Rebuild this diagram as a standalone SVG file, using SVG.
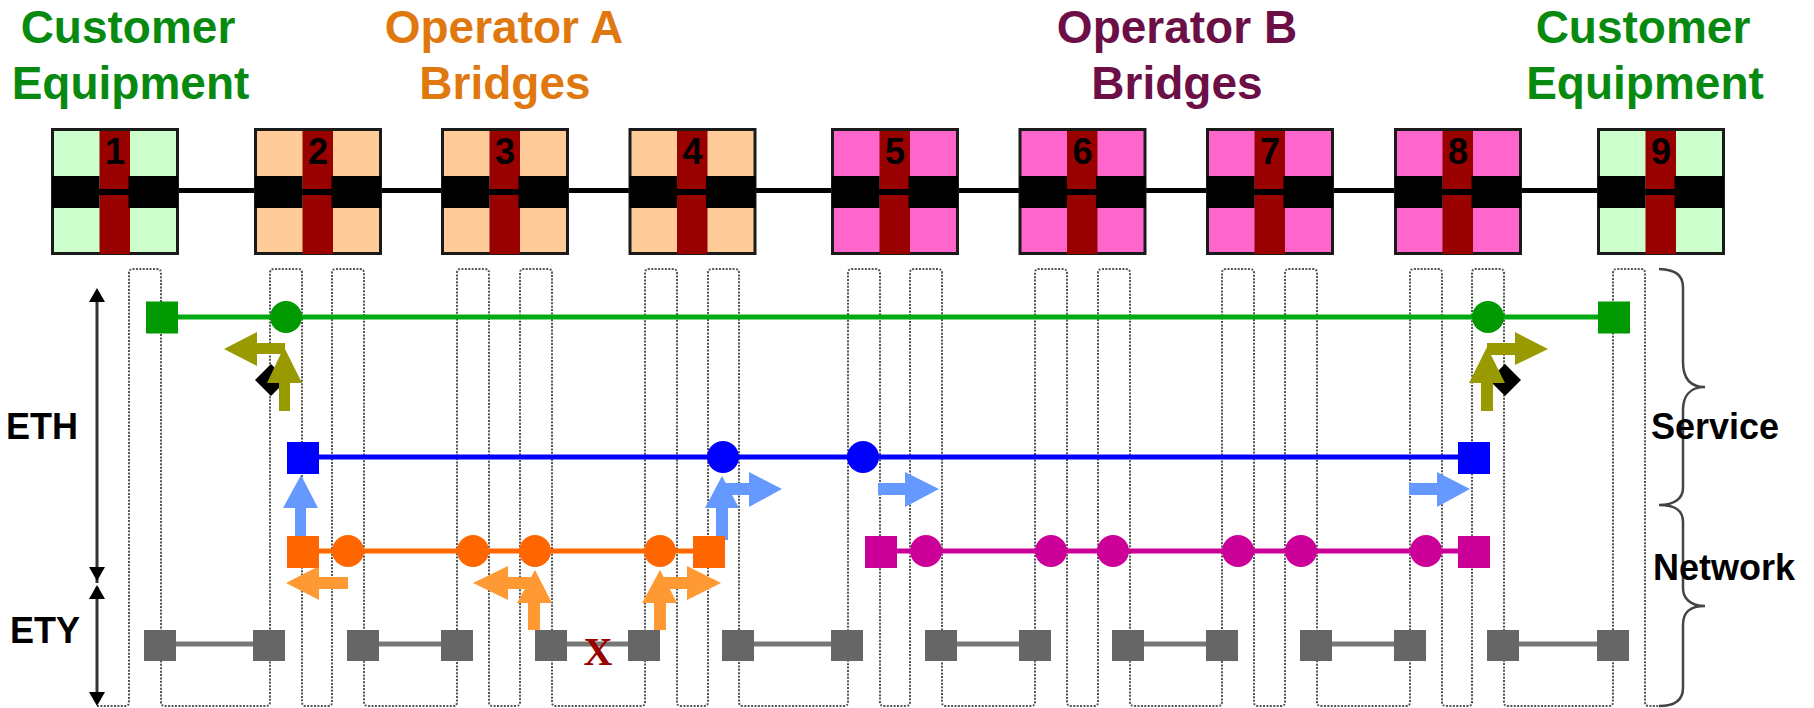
<svg xmlns="http://www.w3.org/2000/svg" width="1814" height="708" viewBox="0 0 1814 708">
<style>
.h{font:bold 46px "Liberation Sans",Arial,sans-serif;text-anchor:middle}
.l{font:bold 36px "Liberation Sans",Arial,sans-serif}
.n{font:bold 36px "Liberation Sans",Arial,sans-serif;text-anchor:middle;fill:#000}
.box{stroke:#1a1a1a;stroke-width:3}
.cu{fill:#ccffcc}.oa{fill:#ffcc99}.ob{fill:#ff66cc}
.red{fill:#990000}.blk{fill:#000}
.trail{stroke:#000;stroke-width:5;fill:none}
.dot{fill:none;stroke:#555;stroke-width:2;stroke-dasharray:2 1.4}
.brace{fill:none;stroke:#444;stroke-width:2.5}
.dim{stroke:#333;stroke-width:3;fill:none}
.g{fill:#009900}.gl{stroke:#00aa11;stroke-width:5}
.b{fill:#0000ff}.bl{stroke:#0000ff;stroke-width:5}
.o{fill:#ff6600}.ol{stroke:#ff6600;stroke-width:5}
.m{fill:#cc0099}.ml{stroke:#cc0099;stroke-width:5}
.y{fill:#666666}.yl{stroke:#777;stroke-width:5}
.olv{fill:#999900}.lb{fill:#6699ff}.lo{fill:#ff9933}
</style>
<defs>
<g id="cross">
<rect class="red" x="47.5" y="2" width="30.500" height="123"/>
<rect class="blk" x="0" y="47" width="47.5" height="32"/>
<rect class="blk" x="76.500" y="47" width="49.500" height="32"/>
<rect class="blk" x="47" y="60" width="30" height="6"/>
</g>
</defs>
<rect width="1814" height="708" fill="#fff"/>

<g id="headings">
<text class="h" x="128" y="43" fill="#088a10">Customer</text>
<text class="h" x="130.500" y="99" fill="#088a10">Equipment</text>
<text class="h" x="504" y="43" fill="#e07810">Operator A</text>
<text class="h" x="505" y="99" fill="#e07810">Bridges</text>
<text class="h" x="1177" y="43" fill="#6b0f46">Operator B</text>
<text class="h" x="1177" y="99" fill="#6b0f46">Bridges</text>
<text class="h" x="1643" y="43" fill="#088a10">Customer</text>
<text class="h" x="1645" y="99" fill="#088a10">Equipment</text>
</g>

<g id="connectors">
<path class="trail" d="M179 190.500H1597"/>
<path class="dot" d="M97 706H125q4 0 4-4V273q0-4 4-4H157q4 0 4 4V702q0 4 4 4H266q4 0 4-4V273q0-4 4-4H298q4 0 4 4V702q0 4 4 4H328q4 0 4-4V273q0-4 4-4H360q4 0 4 4V702q0 4 4 4H453q4 0 4-4V273q0-4 4-4H485q4 0 4 4V702q0 4 4 4H516q4 0 4-4V273q0-4 4-4H548q4 0 4 4V702q0 4 4 4H641q4 0 4-4V273q0-4 4-4H673q4 0 4 4V702q0 4 4 4H704q4 0 4-4V273q0-4 4-4H735q4 0 4 4V702q0 4 4 4H844q4 0 4-4V273q0-4 4-4H876q4 0 4 4V702q0 4 4 4H906q4 0 4-4V273q0-4 4-4H938q4 0 4 4V702q0 4 4 4H1031q4 0 4-4V273q0-4 4-4H1063q4 0 4 4V702q0 4 4 4H1094q4 0 4-4V273q0-4 4-4H1126q4 0 4 4V702q0 4 4 4H1218q4 0 4-4V273q0-4 4-4H1250q4 0 4 4V702q0 4 4 4H1281q4 0 4-4V273q0-4 4-4H1313q4 0 4 4V702q0 4 4 4H1406q4 0 4-4V273q0-4 4-4H1438q4 0 4 4V702q0 4 4 4H1468q4 0 4-4V273q0-4 4-4H1500q4 0 4 4V702q0 4 4 4H1609q4 0 4-4V273q0-4 4-4H1641q4 0 4 4V702q0 4 4 4H1662"/>
<path class="gl" d="M162 317H1614"/>
<path class="bl" d="M303 457H1473"/>
<path class="ol" d="M303 551H708"/>
<path class="ml" d="M881 551H1473"/>
<path class="yl" d="M160 644H269M363 644H457M551 644H644M738 644H847M941 644H1035M1128 644H1222M1316 644H1410M1503 644H1613"/>

<path class="dim" d="M97 300V583M97 587V694"/>
<polygon class="blk" points="97,288 105,302 89,302"/>
<polygon class="blk" points="97,581 105,567 89,567"/>
<polygon class="blk" points="97,585 105,599 89,599"/>
<polygon class="blk" points="97,706 105,692 89,692"/>

<path class="brace" d="M1659 269C1675 270 1683 274 1683 288V362C1683 378 1690 387 1705 387M1705 387C1690 387 1683 396 1683 410V488C1683 498 1675 505 1659 505C1675 505 1683 510 1683 522V588C1683 598 1690 606 1705 606C1690 606 1683 612 1683 625V688C1683 700 1675 706 1659 706"/>

<polygon class="blk" points="271,364 287,380 271,396 255,380"/>
<polygon class="blk" points="1505,364 1521,380 1505,396 1489,380"/>
<polygon class="olv" points="279,411 290,411 290,383 302,383 284,347 267,383 279,383"/>
<polygon class="olv" points="285,343 285,354 257,354 257,366 224,349 257,332 257,343"/>
<polygon class="olv" points="1481,411 1493,411 1493,383 1505,383 1487,347 1469,383 1481,383"/>
<polygon class="olv" points="1487,343 1487,355 1515,355 1515,365 1548,349 1515,332 1515,343"/>
<polygon class="lb" points="295,540 306,540 306,508 318,508 301,475 283,508 295,508"/>
<polygon class="lb" points="716,540 728,540 728,508 739,508 722,476 705,508 716,508"/>
<polygon class="lb" points="722,483 722,495 749,495 749,507 782,489 749,472 749,483"/>
<polygon class="lb" points="878,483 878,495 905,495 905,507 939,489 905,472 905,483"/>
<polygon class="lb" points="1409,483 1409,495 1437,495 1437,507 1470,489 1437,472 1437,483"/>
<polygon class="lo" points="348,577 348,589 319,589 319,600 286,583 319,566 319,577"/>
<polygon class="lo" points="535,577 535,589 508,589 508,600 473,583 508,566 508,577"/>
<polygon class="lo" points="528,630 540,630 540,603 552,603 535,570 517,603 528,603"/>
<polygon class="lo" points="654,630 666,630 666,603 677,603 660,570 642,603 654,603"/>
<polygon class="lo" points="660,577 660,589 687,589 687,600 721,583 687,566 687,577"/>
</g>

<g id="node-1" transform="translate(52 129)"><rect class="box cu" x="0.500" y="0.500" width="125" height="124"/><use href="#cross"/><text class="n" x="63" y="35">1</text></g>
<g id="node-2" transform="translate(255 129)"><rect class="box oa" x="0.500" y="0.500" width="125" height="124"/><use href="#cross"/><text class="n" x="63" y="35">2</text></g>
<g id="node-3" transform="translate(442 129)"><rect class="box oa" x="0.500" y="0.500" width="125" height="124"/><use href="#cross"/><text class="n" x="63" y="35">3</text></g>
<g id="node-4" transform="translate(629.500 129)"><rect class="box oa" x="0.500" y="0.500" width="125" height="124"/><use href="#cross"/><text class="n" x="63" y="35">4</text></g>
<g id="node-5" transform="translate(832 129)"><rect class="box ob" x="0.500" y="0.500" width="125" height="124"/><use href="#cross"/><text class="n" x="63" y="35">5</text></g>
<g id="node-6" transform="translate(1019.500 129)"><rect class="box ob" x="0.500" y="0.500" width="125" height="124"/><use href="#cross"/><text class="n" x="63" y="35">6</text></g>
<g id="node-7" transform="translate(1207 129)"><rect class="box ob" x="0.500" y="0.500" width="125" height="124"/><use href="#cross"/><text class="n" x="63" y="35">7</text></g>
<g id="node-8" transform="translate(1395 129)"><rect class="box ob" x="0.500" y="0.500" width="125" height="124"/><use href="#cross"/><text class="n" x="63" y="35">8</text></g>
<g id="node-9" transform="translate(1598 129)"><rect class="box cu" x="0.500" y="0.500" width="125" height="124"/><use href="#cross"/><text class="n" x="63" y="35">9</text></g>

<g id="service-points">
<rect class="g" x="146" y="301.500" width="32" height="32"/>
<circle class="g" cx="286" cy="317" r="16"/>
<circle class="g" cx="1488" cy="317" r="16"/>
<rect class="g" x="1598" y="301.500" width="32" height="32"/>
</g>
<g id="blue-points">
<rect class="b" x="287" y="442" width="32" height="32"/>
<circle class="b" cx="723" cy="457" r="16"/>
<circle class="b" cx="863" cy="457" r="16"/>
<rect class="b" x="1458" y="442" width="32" height="32"/>
</g>
<g id="operator-a-points">
<rect class="o" x="287" y="536" width="32" height="32"/>
<circle class="o" cx="348" cy="551" r="16"/>
<circle class="o" cx="473" cy="551" r="16"/>
<circle class="o" cx="535" cy="551" r="16"/>
<circle class="o" cx="660" cy="551" r="16"/>
<rect class="o" x="693" y="536" width="32" height="32"/>
</g>
<g id="operator-b-points">
<rect class="m" x="865" y="536" width="32" height="32"/>
<circle class="m" cx="926" cy="551" r="16"/>
<circle class="m" cx="1051" cy="551" r="16"/>
<circle class="m" cx="1113" cy="551" r="16"/>
<circle class="m" cx="1238" cy="551" r="16"/>
<circle class="m" cx="1301" cy="551" r="16"/>
<circle class="m" cx="1426" cy="551" r="16"/>
<rect class="m" x="1458" y="536" width="32" height="32"/>
</g>
<g id="ety-points">
<rect class="y" x="144" y="630" width="32" height="31"/><rect class="y" x="253" y="630" width="32" height="31"/>
<rect class="y" x="347" y="630" width="32" height="31"/><rect class="y" x="441" y="630" width="32" height="31"/>
<rect class="y" x="535" y="630" width="32" height="31"/><rect class="y" x="628" y="630" width="32" height="31"/>
<rect class="y" x="722" y="630" width="32" height="31"/><rect class="y" x="831" y="630" width="32" height="31"/>
<rect class="y" x="925" y="630" width="32" height="31"/><rect class="y" x="1019" y="630" width="32" height="31"/>
<rect class="y" x="1112" y="630" width="32" height="31"/><rect class="y" x="1206" y="630" width="32" height="31"/>
<rect class="y" x="1300" y="630" width="32" height="31"/><rect class="y" x="1394" y="630" width="32" height="31"/>
<rect class="y" x="1487" y="630" width="32" height="31"/><rect class="y" x="1597" y="630" width="32" height="31"/>
</g>
<text x="598" y="665" text-anchor="middle" font-family="'Liberation Serif','Times New Roman',serif" font-weight="bold" font-size="40" fill="#990000">X</text>

<g id="labels">
<text class="l" x="6" y="439">ETH</text>
<text class="l" x="10" y="643">ETY</text>
<text class="l" x="1651" y="439">Service</text>
<text class="l" x="1653" y="580">Network</text>
</g>
</svg>
